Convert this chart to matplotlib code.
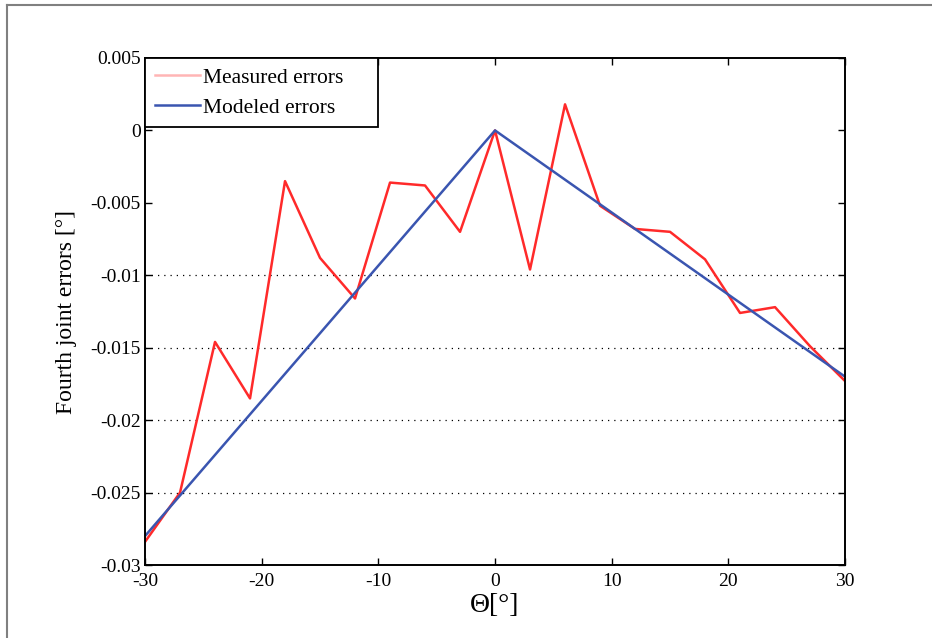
import matplotlib.pyplot as plt
from matplotlib.lines import Line2D

# joint angle [deg] and measured fourth-joint error [deg]
theta = [-30, -27, -24, -21, -18, -15, -12, -9, -6, -3, 0,
         3, 6, 9, 12, 15, 18, 21, 24, 27, 30]
measured = [-0.0284, -0.0250, -0.0146, -0.0185, -0.0035, -0.0088, -0.0116,
            -0.0036, -0.0038, -0.0070, 0.0000, -0.0096, 0.0018, -0.0052,
            -0.0068, -0.0070, -0.0089, -0.0126, -0.0122, -0.0149, -0.0173]

# model error (piecewise linear)
theta_model = [-30, 0, 30]
modeled = [-0.0280, 0.0000, -0.0170]

yticks = [0.005, 0, -0.005, -0.01, -0.015, -0.02, -0.025, -0.03]
ytick_labels = ['0.005', '0', '-0.005', '-0.01', '-0.015', '-0.02', '-0.025', '-0.03']
xticks = [-30, -20, -10, 0, 10, 20, 30]
grid_levels = [-0.01, -0.015, -0.02, -0.025]

plt.rcParams['font.family'] = ['Liberation Serif', 'DejaVu Serif']

fig = plt.figure(figsize=(9.32, 6.38), dpi=100)
ax = fig.add_axes([0.1556, 0.1144, 0.7511, 0.7947])

for g in grid_levels:
    ax.axhline(g, color='black', linestyle=(0, (1, 4)), linewidth=0.9, zorder=0)

ax.plot(theta, measured, color='#ff2a2a', linewidth=1.8, label='Measured errors')
ax.plot(theta_model, modeled, color='#3a55b0', linewidth=1.8, label='Modeled errors')

ax.set_xlim(-30, 30)
ax.set_ylim(-0.03, 0.005)
ax.set_xticks(xticks)
ax.set_xticklabels([str(t) for t in xticks])
ax.set_yticks(yticks)
ax.set_yticklabels(ytick_labels)
ax.tick_params(direction='in', top=True, right=True, length=5, width=1,
               labelsize=14)
ax.tick_params(axis='x', pad=6)
ax.tick_params(axis='y', pad=3)
for s in ax.spines.values():
    s.set_linewidth(1.4)

ax.set_xlabel('Θ[°]', fontsize=20, labelpad=2)
ax.set_ylabel('Fourth joint errors [°]', fontsize=17, labelpad=10)

leg = ax.legend(loc='upper left', bbox_to_anchor=(0, 1, 0.333, 0), mode='expand',
                fontsize=15.5, fancybox=False, framealpha=1,
                edgecolor='black', borderaxespad=0, handlelength=2.1,
                handletextpad=0.15, borderpad=0.45, labelspacing=0.45)
leg.get_frame().set_linewidth(1.3)
leg.get_lines()[0].set_color('#ffb5b5')

# outer frame (top and left edges)
fig.add_artist(Line2D([0.0075, 1.0], [0.992, 0.992], color='#808080', linewidth=1.5))
fig.add_artist(Line2D([0.0075, 0.0075], [0.0, 0.992], color='#808080', linewidth=1.5))

fig.savefig('out.png', dpi=100)
